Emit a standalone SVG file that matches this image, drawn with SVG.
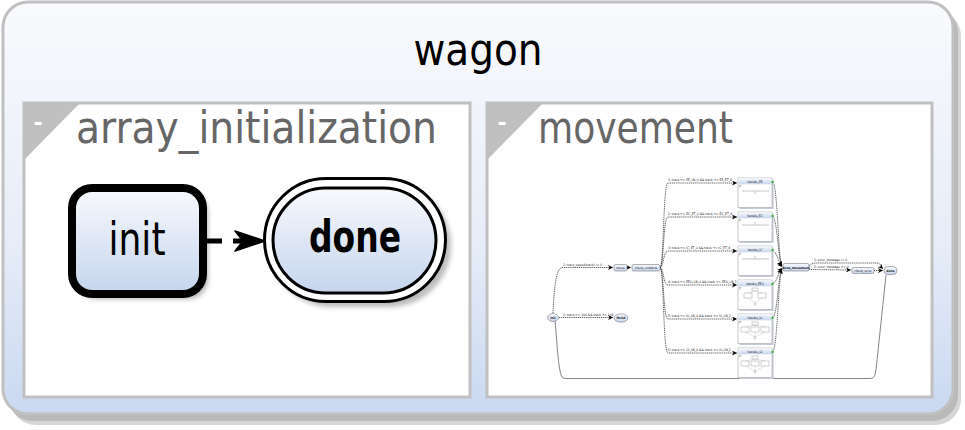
<svg xmlns="http://www.w3.org/2000/svg" width="965" height="430" viewBox="0 0 965 430">
<defs>
<linearGradient id="gOuter" x1="0" y1="0" x2="0" y2="1">
<stop offset="0" stop-color="#f9fafd"/>
<stop offset="0.6" stop-color="#e6ecf8"/>
<stop offset="1" stop-color="#c9d8f1"/>
</linearGradient>
<linearGradient id="gNode" x1="0" y1="0" x2="0" y2="1">
<stop offset="0" stop-color="#f8f9fd"/>
<stop offset="1" stop-color="#c5d5ee"/>
</linearGradient>
<filter id="sh" x="-20%" y="-20%" width="150%" height="150%">
<feGaussianBlur stdDeviation="2.5"/>
</filter>
<marker id="mArr" viewBox="0 0 10 10" refX="10" refY="5" markerWidth="5" markerHeight="5" orient="auto" markerUnits="userSpaceOnUse">
<path d="M0,0 L10,5 L0,10 L3,5 Z" fill="#000"/>
</marker>
</defs>
<style>
.title{font-family:"DejaVu Sans Condensed","DejaVu Sans",sans-serif;font-stretch:condensed}
.sub{fill:#666}
.box{fill:#fff;stroke:#c0c0c0;stroke-width:3}
.tri{fill:#c0c0c0}
.minus{font-family:"DejaVu Sans",sans-serif;font-size:22px;font-weight:bold;fill:#fff;text-anchor:middle}
.t{font-family:"DejaVu Sans Condensed","DejaVu Sans",sans-serif;font-size:3.3px;fill:#111}
.b{font-weight:bold}
.tc{text-anchor:middle}
.mn{fill:url(#gNode);stroke:#7a7a7a;stroke-width:0.6}
.me{fill:none;stroke:#111;stroke-width:0.65;stroke-dasharray:1.2,0.7}
.hs{fill:#c4ccd8}
.hb{fill:#fff;stroke:#b0b0b0;stroke-width:0.7}
.ht{fill:url(#gNode);stroke:none}
.gl{stroke:#c0c0c0;stroke-width:0.9;fill:none}
.gm{fill:#2fb52f}
</style>

<g id="wagon">
<rect x="10" y="10" width="951" height="415" rx="26" fill="#d6d6d6"/>
<rect x="7" y="7" width="951" height="414" rx="26" fill="#b9b9b9"/>
<rect x="3" y="2" width="950" height="412" rx="25" fill="url(#gOuter)" stroke="#c0c0c0" stroke-width="3"/>
<text class="title" x="478" y="65" font-size="44" text-anchor="middle" textLength="129" lengthAdjust="spacingAndGlyphs" fill="#000">wagon</text>
</g>

<g id="array_initialization">
<rect class="box" x="24" y="103" width="446" height="294"/>
<polygon class="tri" points="24,103 80,103 24,160"/>
<text class="minus" x="38" y="130">-</text>
<text class="title sub" x="76" y="143" font-size="44" textLength="361" lengthAdjust="spacingAndGlyphs">array_initialization</text>
</g>

<g id="init">
<rect x="77" y="193" width="131" height="106" rx="20" fill="#777" opacity="0.55" filter="url(#sh)"/>
<rect x="72" y="188" width="131" height="106" rx="20" fill="url(#gNode)" stroke="#000" stroke-width="8"/>
<text class="title" x="137" y="255" font-size="46" text-anchor="middle" textLength="57" lengthAdjust="spacingAndGlyphs" fill="#000">init</text>
</g>

<g id="done">
<rect x="270" y="184" width="181" height="123" rx="61.5" fill="#777" opacity="0.5" filter="url(#sh)"/>
<rect x="264.5" y="178.5" width="181" height="123" rx="61.5" fill="#fff" stroke="#000" stroke-width="3"/>
<rect x="273" y="188" width="163" height="105" rx="52.5" fill="url(#gNode)" stroke="#000" stroke-width="3"/>
<text class="title" x="355" y="252" font-size="44" font-weight="bold" text-anchor="middle" textLength="92" lengthAdjust="spacingAndGlyphs" fill="#000">done</text>
</g>

<g id="connectors">
<path d="M206,241 L242,241" fill="none" stroke="#000" stroke-width="5" stroke-dasharray="16,11"/>
<path d="M235,231 L265,241 L235,251 L243,241 Z" fill="#000" stroke="#000" stroke-width="1.5" stroke-linejoin="round"/>
</g>

<g id="movement">
<rect class="box" x="487" y="103" width="445" height="294"/>
<polygon class="tri" points="487,103 543,103 487,160"/>
<text class="minus" x="502" y="130">-</text>
<text class="title sub" x="538" y="143" font-size="44" textLength="195" lengthAdjust="spacingAndGlyphs">movement</text>

<g id="m-connectors">
<path class="me" d="M559,317.5 L613,317.5" marker-end="url(#mArr)"/>
<text class="t" x="563" y="315.5">2: track &gt;= 100 &amp;&amp; track &lt;= 134</text>
<path class="me" d="M553,313 C554,290 556,268 562,267.5 L613,267.5" marker-end="url(#mArr)"/>
<text class="t" x="563" y="265.5">1: track_speed(track) != 0</text>
<path class="me" d="M627,267.5 L631,267.5" marker-end="url(#mArr)"/>
<path class="me" d="M660,267.5 C664,267 663,183 668,183 L737,183" marker-end="url(#mArr)"/>
<path class="me" d="M660,267.5 C664,267 663,217 668,217 L737,217" marker-end="url(#mArr)"/>
<path class="me" d="M660,267.5 C664,267 663,251 668,251 L737,251" marker-end="url(#mArr)"/>
<path class="me" d="M660,267.5 C664,268 663,285 668,285 L737,285" marker-end="url(#mArr)"/>
<path class="me" d="M660,267.5 C664,268 663,319 668,319 L737,319" marker-end="url(#mArr)"/>
<path class="me" d="M660,267.5 C664,268 663,353 668,353 L737,353" marker-end="url(#mArr)"/>
<text class="t" x="668" y="181">1: track &gt;= EE_LN_0 &amp;&amp; track &lt;= EE_ET_4</text>
<text class="t" x="668" y="215">2: track &gt;= EC_ET_0 &amp;&amp; track &lt;= EC_ET_4</text>
<text class="t" x="668" y="249">3: track &gt;= IC_ET_0 &amp;&amp; track &lt;= IC_ET_4</text>
<text class="t" x="668" y="283">4: track &gt;= EEO_LN_0 &amp;&amp; track &lt;= EEO_LN_1</text>
<text class="t" x="668" y="317">5: track &gt;= IO_LN_0 &amp;&amp; track &lt;= IO_LN_2</text>
<text class="t" x="668" y="351">6: track &gt;= OI_LN_0 &amp;&amp; track &lt;= OI_LN_2</text>
<path class="me" d="M773,182 C778,190 778,260 782,266" marker-end="url(#mArr)"/>
<path class="me" d="M773,216 C778,225 778,260 782,266" marker-end="url(#mArr)"/>
<path class="me" d="M773,250 C778,255 778,262 782,267" marker-end="url(#mArr)"/>
<path class="me" d="M773,284 C778,280 778,272 782,268" marker-end="url(#mArr)"/>
<path class="me" d="M773,318 C778,310 778,275 782,269" marker-end="url(#mArr)"/>
<path class="me" d="M773,352 C778,340 778,280 782,269" marker-end="url(#mArr)"/>
<path class="me" d="M809,266 C812,263 814,263 818,263 L877,263 C881,263 882,268 883,269" marker-end="url(#mArr)"/>
<text class="t" x="814" y="261">1: error_message != 0</text>
<path class="me" d="M809,269.5 L851,270" marker-end="url(#mArr)"/>
<text class="t" x="814" y="268">2: error_message == 0</text>
<path class="me" d="M874,270.5 L883,270.5" marker-end="url(#mArr)"/>
<path d="M555,321 C557,340 558,370 562,377 C563,378.5 565,378.5 567,378.5 L870,378.5 C874,378.5 875,376 876,370 L886,275" fill="none" stroke="#333" stroke-width="0.6"/>
</g>

<g id="m-init">
<ellipse cx="553" cy="317.5" rx="5.5" ry="4" class="mn" stroke="#000" stroke-width="0.9"/>
<text class="t tc b" x="553" y="318.6">init</text>
</g>
<g id="m-finish">
<ellipse cx="621" cy="318" rx="7" ry="4.2" class="mn"/>
<text class="t tc b" x="621" y="319.1">finish</text>
</g>
<g id="m-move">
<rect x="614" y="264.5" width="13" height="6.5" rx="1.5" class="mn"/>
<text class="t tc" x="620.5" y="268.8">move</text>
</g>
<g id="m-check_contacts">
<rect x="632" y="264.5" width="28" height="6.5" rx="1.5" class="mn"/>
<text class="t tc" x="646" y="268.8">check_contacts</text>
</g>

<g id="m-handle_EE">
<rect class="hs" x="739.5" y="179.5" width="34" height="29.5"/>
<rect class="hb" x="738" y="178" width="34" height="29.5"/>
<rect class="ht" x="738.3" y="178.3" width="33.4" height="6"/>
<text class="t tc" x="755" y="182.5">handle_EE</text>
<polygon points="739,185 742,185 739,188" fill="#c0c0c0"/>
<line class="gl" x1="742" y1="191" x2="769" y2="191"/>
<line class="gl" x1="755" y1="191" x2="755" y2="194"/>
<rect class="gm" x="771.5" y="181" width="2" height="2"/>
</g>
<g id="m-handle_EC">
<rect class="hs" x="739.5" y="213.5" width="34" height="29.5"/>
<rect class="hb" x="738" y="212" width="34" height="29.5"/>
<rect class="ht" x="738.3" y="212.3" width="33.4" height="6"/>
<text class="t tc" x="755" y="216.5">handle_EC</text>
<polygon points="739,219 742,219 739,222" fill="#c0c0c0"/>
<line class="gl" x1="742" y1="225" x2="769" y2="225"/>
<line class="gl" x1="755" y1="222" x2="755" y2="225"/>
<rect class="gm" x="771.5" y="215" width="2" height="2"/>
</g>
<g id="m-handle_IC">
<rect class="hs" x="739.5" y="247.5" width="34" height="29.5"/>
<rect class="hb" x="738" y="246" width="34" height="29.5"/>
<rect class="ht" x="738.3" y="246.3" width="33.4" height="6"/>
<text class="t tc" x="755" y="250.5">handle_IC</text>
<polygon points="739,253 742,253 739,256" fill="#c0c0c0"/>
<line class="gl" x1="742" y1="259" x2="769" y2="259"/>
<line class="gl" x1="755" y1="256" x2="755" y2="259"/>
<rect class="gm" x="771.5" y="249" width="2" height="2"/>
</g>
<g id="m-handle_EEO">
<rect class="hs" x="739.5" y="281.5" width="34" height="29.5"/>
<rect class="hb" x="738" y="280" width="34" height="29.5"/>
<rect class="ht" x="738.3" y="280.3" width="33.4" height="6"/>
<text class="t tc" x="755" y="284.5">handle_EEO</text>
<polygon points="739,287 742,287 739,290" fill="#c0c0c0"/>
<rect x="752" y="288" width="6" height="3" fill="none" stroke="#999" stroke-width="0.45"/>
<rect x="744" y="293" width="8" height="5" fill="none" stroke="#999" stroke-width="0.45"/>
<rect x="758" y="293" width="8" height="5" fill="none" stroke="#999" stroke-width="0.45"/>
<path d="M755,291 L748,293 M755,291 L762,293 M748,298 L755,303 M762,298 L755,303" stroke="#aaa" stroke-width="0.35" fill="none"/>
<circle cx="755" cy="304" r="1" fill="none" stroke="#999" stroke-width="0.45"/>
<rect class="gm" x="771.5" y="283" width="2" height="2"/>
</g>
<g id="m-handle_IO">
<rect class="hs" x="739.5" y="315.5" width="34" height="29.5"/>
<rect class="hb" x="738" y="314" width="34" height="29.5"/>
<rect class="ht" x="738.3" y="314.3" width="33.4" height="6"/>
<text class="t tc" x="755" y="318.5">handle_IO</text>
<polygon points="739,321 742,321 739,324" fill="#c0c0c0"/>
<rect x="752" y="322" width="6" height="3" fill="none" stroke="#999" stroke-width="0.45"/>
<rect x="741" y="327" width="8" height="5" fill="none" stroke="#999" stroke-width="0.45"/>
<rect x="751" y="327" width="8" height="5" fill="none" stroke="#999" stroke-width="0.45"/>
<rect x="761" y="327" width="8" height="5" fill="none" stroke="#999" stroke-width="0.45"/>
<path d="M755,325 L745,327 M755,325 L755,327 M755,325 L765,327 M745,332 L755,337 M755,332 L755,337 M765,332 L755,337" stroke="#aaa" stroke-width="0.35" fill="none"/>
<circle cx="755" cy="338" r="1" fill="none" stroke="#999" stroke-width="0.45"/>
<rect class="gm" x="771.5" y="317" width="2" height="2"/>
</g>
<g id="m-handle_OI">
<rect class="hs" x="739.5" y="349.5" width="34" height="29.5"/>
<rect class="hb" x="738" y="348" width="34" height="29.5"/>
<rect class="ht" x="738.3" y="348.3" width="33.4" height="6"/>
<text class="t tc" x="755" y="352.5">handle_OI</text>
<polygon points="739,355 742,355 739,358" fill="#c0c0c0"/>
<rect x="752" y="356" width="6" height="3" fill="none" stroke="#999" stroke-width="0.45"/>
<rect x="741" y="361" width="8" height="5" fill="none" stroke="#999" stroke-width="0.45"/>
<rect x="751" y="361" width="8" height="5" fill="none" stroke="#999" stroke-width="0.45"/>
<rect x="761" y="361" width="8" height="5" fill="none" stroke="#999" stroke-width="0.45"/>
<path d="M755,359 L745,361 M755,359 L755,361 M755,359 L765,361 M745,366 L755,371 M755,366 L755,371 M765,366 L755,371" stroke="#aaa" stroke-width="0.35" fill="none"/>
<circle cx="755" cy="372" r="1" fill="none" stroke="#999" stroke-width="0.45"/>
<rect class="gm" x="771.5" y="351" width="2" height="2"/>
</g>

<g id="m-done_movement">
<rect x="783" y="263.5" width="26" height="7.5" rx="1.5" class="mn" stroke="#333"/>
<text class="t tc b" x="796" y="268.5">done_movement</text>
</g>
<g id="m-check_error">
<rect x="852" y="267.5" width="22" height="6" rx="1.5" class="mn"/>
<text class="t tc" x="863" y="271.5">check_error</text>
</g>
<g id="m-done">
<rect x="884" y="266.5" width="13" height="8" rx="4" class="mn" stroke="#555"/>
<text class="t tc b" x="890.5" y="271.6">done</text>
</g>
</g>
</svg>
